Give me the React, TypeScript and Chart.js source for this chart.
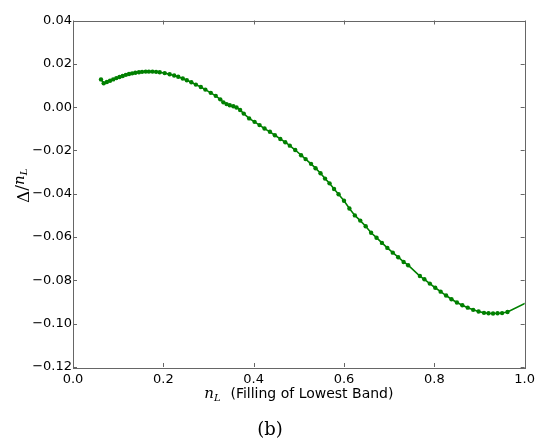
import React, { useEffect, useRef } from "react";
import { Chart, registerables } from "chart.js";

Chart.register(...registerables);

const fillingX: number[] = [
  0.062, 0.068, 0.075, 0.082, 0.089, 0.096, 0.103, 0.11, 0.117, 0.124, 0.131, 0.138, 0.146, 0.153,
  0.161, 0.168, 0.176, 0.184, 0.192, 0.203, 0.214, 0.224, 0.233, 0.243, 0.252, 0.262, 0.272, 0.283,
  0.293, 0.305, 0.316, 0.326, 0.333, 0.34, 0.347, 0.355, 0.362, 0.37, 0.378, 0.39, 0.402, 0.413,
  0.424, 0.436, 0.447, 0.459, 0.47, 0.48, 0.492, 0.505, 0.515, 0.527, 0.537, 0.548, 0.558, 0.568,
  0.578, 0.588, 0.6, 0.612, 0.624, 0.636, 0.648, 0.66, 0.672, 0.684, 0.696, 0.708, 0.72, 0.732,
  0.742, 0.768, 0.778, 0.79, 0.802, 0.814, 0.826, 0.838, 0.85, 0.862, 0.874, 0.886, 0.898, 0.91,
  0.92, 0.93, 0.94, 0.95, 0.962, 1.01,
];

const deltaOverN: number[] = [
  0.0128, 0.011, 0.0116, 0.0122, 0.0128, 0.0134, 0.0139, 0.0144, 0.0149, 0.0153, 0.0156, 0.0159,
  0.0161, 0.0163, 0.0164, 0.0164, 0.0164, 0.0163, 0.0161, 0.0157, 0.0152, 0.0146, 0.014, 0.0132,
  0.0124, 0.0115, 0.0104, 0.0093, 0.0081, 0.0066, 0.0052, 0.0036, 0.0022, 0.0014, 0.0009, 0.0004,
  -0.0002, -0.0013, -0.003, -0.0052, -0.0068, -0.0083, -0.0099, -0.0114, -0.013, -0.0147, -0.0162,
  -0.0178, -0.0198, -0.0222, -0.024, -0.0262, -0.0282, -0.0305, -0.033, -0.0352, -0.0378, -0.0402,
  -0.0432, -0.0468, -0.05, -0.0524, -0.055, -0.058, -0.0603, -0.0627, -0.065, -0.0672, -0.0693,
  -0.0715, -0.073, -0.078, -0.0795, -0.0815, -0.0834, -0.0852, -0.087, -0.0887, -0.0902, -0.0915,
  -0.0926, -0.0936, -0.0944, -0.095, -0.0952, -0.0953, -0.0952, -0.0951, -0.0946, -0.0897,
];

const xTicks: number[] = [0, 0.2, 0.4, 0.6, 0.8, 1.0];
const yTicks: number[] = [0.04, 0.02, 0, -0.02, -0.04, -0.06, -0.08, -0.1, -0.12];

const xLabelRest = "  (Filling of Lowest Band)";
const caption = "(b)";

const GREEN = "#008000";
const FRAME = "#666666";

const fmt = (v: number, d: number) => {
  const s = Math.abs(v) < 1e-9 ? (0).toFixed(d) : v.toFixed(d);
  return s.replace("-", "\u2212");
};

const framePlugin = {
  id: "mplFrame",
  afterDraw(chart: any) {
    const { ctx, chartArea } = chart;
    const { left, right, top, bottom } = chartArea;
    const xs = chart.scales.x;
    const ys = chart.scales.y;
    ctx.save();
    ctx.strokeStyle = FRAME;
    ctx.lineWidth = 1;
    ctx.strokeRect(Math.round(left) + 0.5, Math.round(top) + 0.5, Math.round(right - left), Math.round(bottom - top));
    const tl = 4;
    ctx.beginPath();
    for (const t of xTicks) {
      const px = Math.round(xs.getPixelForValue(t)) + 0.5;
      ctx.moveTo(px, bottom);
      ctx.lineTo(px, bottom - tl);
      ctx.moveTo(px, top);
      ctx.lineTo(px, top + tl);
    }
    for (const t of yTicks) {
      const py = Math.round(ys.getPixelForValue(t)) + 0.5;
      ctx.moveTo(left, py);
      ctx.lineTo(left + tl, py);
      ctx.moveTo(right, py);
      ctx.lineTo(right - tl, py);
    }
    ctx.stroke();

    // x axis label
    ctx.fillStyle = "#000";
    ctx.textBaseline = "alphabetic";
    const sansFont = "14px 'DejaVu Sans'";
    const nFont = "italic 15px 'DejaVu Serif'";
    const subFont = "italic 10px 'DejaVu Serif'";
    ctx.font = nFont;
    const wN = ctx.measureText("n").width;
    ctx.font = subFont;
    const wL = ctx.measureText("L").width;
    ctx.font = sansFont;
    const wRest = ctx.measureText(xLabelRest).width;
    const total = wN + wL + 1 + wRest;
    const cx = (left + right) / 2;
    let x0 = cx - total / 2;
    const base = 398;
    ctx.textAlign = "left";
    ctx.font = nFont;
    ctx.fillText("n", x0, base);
    x0 += wN;
    ctx.font = subFont;
    ctx.fillText("L", x0, base + 3);
    x0 += wL + 1;
    ctx.font = sansFont;
    ctx.fillText(xLabelRest, x0, base);

    // y axis label (rotated)
    ctx.save();
    ctx.translate(29, (top + bottom) / 2 - 8);
    ctx.rotate(-Math.PI / 2);
    const dFont = "17px 'DejaVu Serif'";
    ctx.font = dFont;
    const wD = ctx.measureText("\u0394").width;
    const wS = ctx.measureText("/").width;
    ctx.font = nFont;
    const wN2 = ctx.measureText("n").width;
    ctx.font = subFont;
    const wL2 = ctx.measureText("L").width;
    const tot2 = wD + wS + wN2 + wL2;
    let y0 = -tot2 / 2;
    ctx.font = dFont;
    ctx.fillText("\u0394", y0, 0);
    y0 += wD;
    ctx.fillText("/", y0, -2);
    y0 += wS;
    ctx.font = nFont;
    ctx.fillText("n", y0, -5);
    y0 += wN2;
    ctx.font = subFont;
    ctx.fillText("L", y0, -2);
    ctx.restore();

    // caption
    ctx.font = "18px 'DejaVu Serif'";
    ctx.textAlign = "center";
    ctx.textBaseline = "middle";
    ctx.fillText(caption, 270, 430);
    ctx.restore();
  },
};

export default function App() {
  const ref = useRef<HTMLCanvasElement | null>(null);
  useEffect(() => {
    if (!ref.current) return;
    const chart = new Chart(ref.current, {
      type: "line",
      data: {
        datasets: [
          {
            data: fillingX.map((x, i) => ({ x, y: deltaOverN[i] })),
            borderColor: GREEN,
            backgroundColor: GREEN,
            borderWidth: 1.6,
            pointRadius: 2.2,
            pointBorderWidth: 0,
            pointBackgroundColor: GREEN,
            tension: 0,
            fill: false,
          },
        ],
      },
      options: {
        responsive: false,
        animation: false,
        layout: { padding: { left: 0, right: 14.5, top: 20.5, bottom: 0 } },
        plugins: { legend: { display: false }, tooltip: { enabled: false }, title: { display: false } },
        scales: {
          x: {
            type: "linear",
            min: 0,
            max: 1,
            afterBuildTicks: (s: any) => {
              s.ticks = xTicks.map((v) => ({ value: v }));
            },
            afterFit: (s: any) => {
              s.height = 77;
            },
            grid: { display: false, drawTicks: false },
            border: { display: false },
            ticks: {
              color: "#000",
              font: { family: "'DejaVu Sans'", size: 13 },
              padding: 5,
              maxRotation: 0,
              autoSkip: false,
              callback: (v: any) => fmt(Number(v), 1),
            },
          },
          y: {
            type: "linear",
            min: -0.12,
            max: 0.04,
            afterBuildTicks: (s: any) => {
              s.ticks = yTicks.map((v) => ({ value: v }));
            },
            afterFit: (s: any) => {
              s.width = 73;
            },
            grid: { display: false, drawTicks: false },
            border: { display: false },
            ticks: {
              color: "#000",
              font: { family: "'DejaVu Sans'", size: 13 },
              padding: 1,
              autoSkip: false,
              callback: (v: any) => fmt(Number(v), 2),
            },
          },
        },
      },
      plugins: [framePlugin],
    });
    return () => chart.destroy();
  }, []);
  return (
    <div style={{ position: "fixed", left: 0, top: 0, width: 540, height: 444, background: "#fff" }}>
      <canvas ref={ref} width={540} height={444} />
    </div>
  );
}
